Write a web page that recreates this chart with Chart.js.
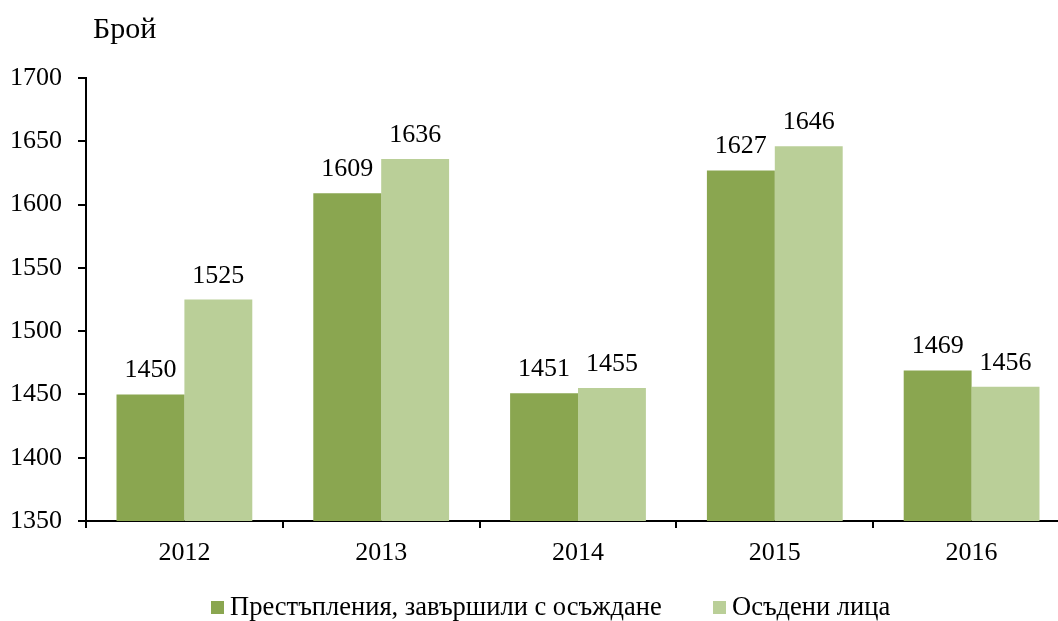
<!DOCTYPE html>
<html><head><meta charset="utf-8">
<script src="https://cdn.jsdelivr.net/npm/chart.js@4/dist/chart.umd.min.js"></script>
<style>html,body{margin:0;padding:0;background:#fff;overflow:hidden}#wrap{width:1058px;height:621px;overflow:hidden}</style>
</head><body><div id="wrap"><canvas id="c" width="1070" height="621"></canvas></div>
<script>
const years = ['2012','2013','2014','2015','2016'];
const crimes = [1450,1609,1451,1627,1469];
const convicted = [1525,1636,1455,1646,1456];
const seriesNames = ['Престъпления, завършили с осъждане','Осъдени лица'];
const yTitle = 'Брой';
const FONT = '"Liberation Serif", "Times New Roman", serif';

const labelPlugin = {
  id:'labels',
  afterDatasetsDraw(chart){
    const ctx = chart.ctx;
    ctx.save();
    ctx.font = '26px ' + FONT;
    ctx.fillStyle = '#000';
    ctx.textAlign = 'center';
    ctx.textBaseline = 'alphabetic';
    chart.data.datasets.forEach((ds,i)=>{
      chart.getDatasetMeta(i).data.forEach((bar,j)=>{
        ctx.fillText(String(ds.data[j]), bar.x, bar.y - 17);
      });
    });
    // axis title
    ctx.font = '30px ' + FONT;
    ctx.textAlign = 'left';
    ctx.fillText(yTitle, 93, 38);
    // legend
    const lx = [211, 713], tx = [230, 732];
    ctx.font = '26.5px ' + FONT;
    ctx.textBaseline = 'middle';
    chart.data.datasets.forEach((ds,i)=>{
      ctx.fillStyle = ds.backgroundColor;
      ctx.fillRect(lx[i], 601, 13, 13);
      ctx.fillStyle = '#000';
      ctx.fillText(ds.label, tx[i], 608);
    });
    ctx.restore();
  }
};

new Chart(document.getElementById('c'), {
  type:'bar',
  data:{labels:years, datasets:[
    {label:seriesNames[0], data:crimes, backgroundColor:'#8AA650', categoryPercentage:0.69, barPercentage:1},
    {label:seriesNames[1], data:convicted, backgroundColor:'#BACF98', categoryPercentage:0.69, barPercentage:1}
  ]},
  options:{
    responsive:false, animation:false,
    layout:{padding:{top:78,right:0,left:0,bottom:40}},
    plugins:{ tooltip:{enabled:false}, legend:{display:false} },
    scales:{
      x:{
        grid:{drawOnChartArea:false, drawTicks:true, tickLength:7, color:'#000', lineWidth:2},
        border:{color:'#000', width:2},
        ticks:{font:{family:FONT,size:26}, color:'#000', padding:10},
        afterFit(s){ s.height = 60; }
      },
      y:{
        min:1350, max:1700,
        grid:{drawOnChartArea:false, drawTicks:true, tickLength:8, color:'#000', lineWidth:2},
        border:{color:'#000', width:2},
        ticks:{stepSize:50, font:{family:FONT,size:26}, color:'#000', padding:16,
          callback:(v)=>String(v)},
        afterFit(s){ s.width = 86; }
      }
    }
  },
  plugins:[labelPlugin]
});
</script></body></html>
